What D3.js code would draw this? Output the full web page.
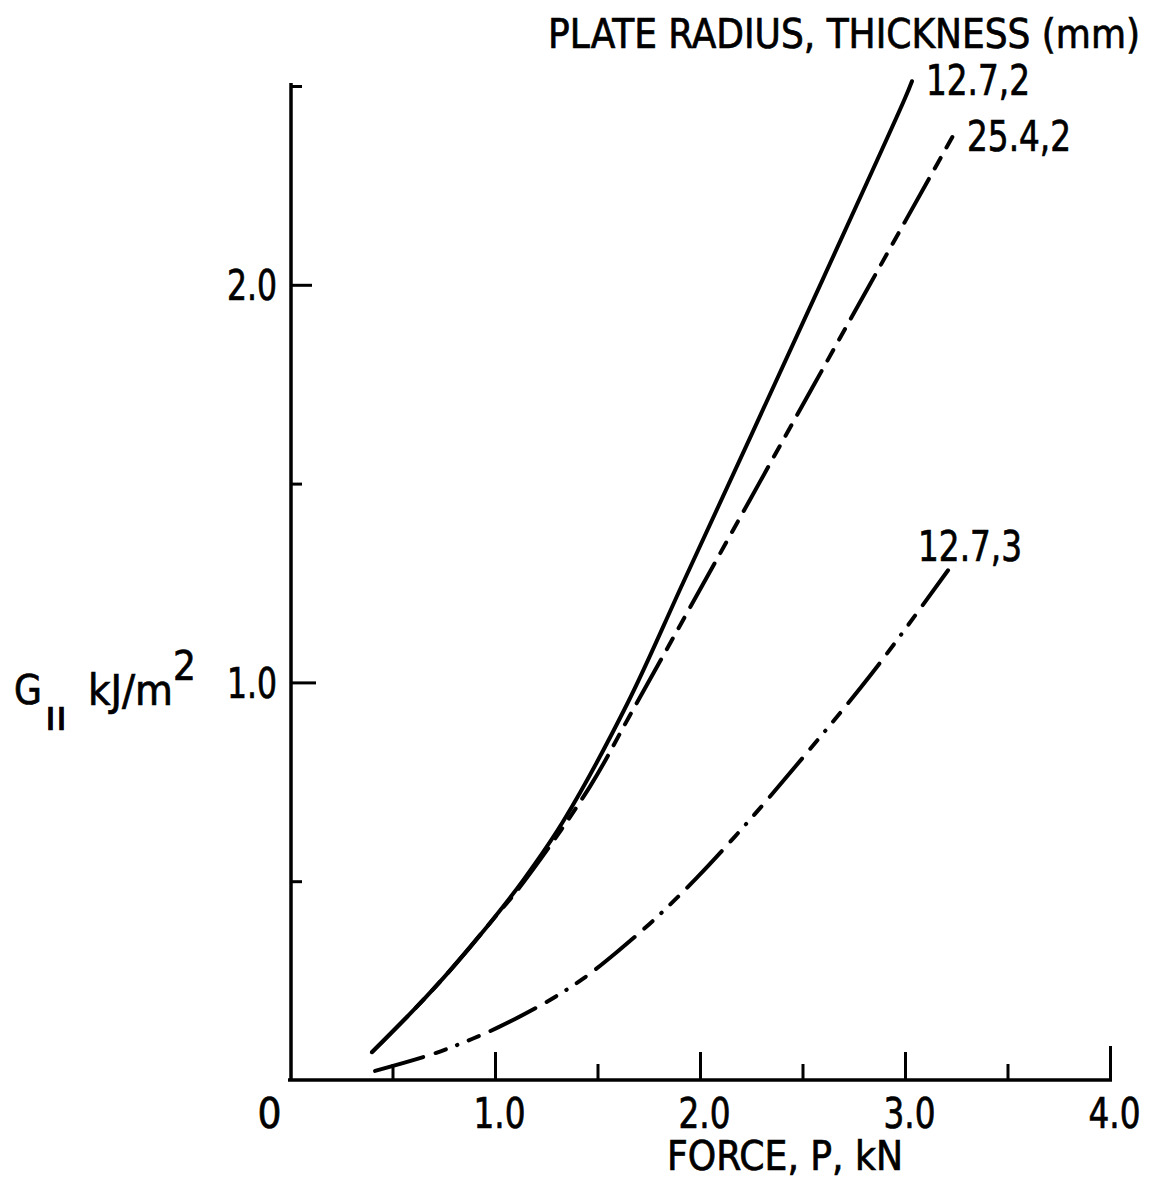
<!DOCTYPE html>
<html>
<head>
<meta charset="utf-8">
<script src="https://cdn.jsdelivr.net/npm/d3@7"></script>
<style>
  html, body { margin: 0; padding: 0; background: #fff; }
  svg { display: block; }
  text { font-family: "Liberation Sans Narrow", "DejaVu Sans Condensed", "Liberation Sans", sans-serif; fill: #000; stroke: #000; stroke-width: 0.7px; }
</style>
</head>
<body>
<svg id="chart" width="1151" height="1181"></svg>
<script>
// ---- data ----
const xTicks = [0, 0.5, 1.0, 1.5, 2.0, 2.5, 3.0, 3.5, 4.0];
const xTickLabels = {0: "0", 1: "1.0", 2: "2.0", 3: "3.0", 4: "4.0"};
const yTicks = [0.5, 1.0, 1.5, 2.0, 2.5];
const yTickLabels = {1: "1.0", 2: "2.0"};

const seriesNames = ["12.7,2", "25.4,2", "12.7,3"];

// G_II (kJ/m^2) vs force P (kN)
const series_12_7_2 = [
  [0.40, 0.070], [0.62, 0.185], [0.78, 0.275], [0.976, 0.395], [1.137, 0.502],
  [1.332, 0.650], [1.644, 0.945], [1.917, 1.250], [2.244, 1.615], [2.600, 2.015],
  [3.000, 2.469], [3.034, 2.512]
];
const series_25_4_2 = [
  [0.40, 0.070], [0.62, 0.185], [0.78, 0.275], [0.976, 0.395], [1.137, 0.496],
  [1.463, 0.738], [1.659, 0.918], [1.951, 1.188], [2.390, 1.595], [2.830, 2.002],
  [3.254, 2.393]
];
const series_12_7_3 = [
  [0.415, 0.023], [0.683, 0.063], [0.844, 0.094], [1.010, 0.131], [1.254, 0.197],
  [1.430, 0.255], [1.595, 0.322], [1.780, 0.405], [1.985, 0.509], [2.244, 0.655],
  [2.502, 0.811], [2.839, 1.023], [3.210, 1.282]
];

const titleText = "PLATE RADIUS, THICKNESS (mm)";
const xAxisTitle = "FORCE, P, kN";

// ---- layout ----
const svg = d3.select("#chart");
svg.append("rect").attr("width", 1151).attr("height", 1181).attr("fill", "#fff");

const x = d3.scaleLinear().domain([0, 4]).range([290, 1110]);
const y = d3.scaleLinear().domain([0, 2.5]).range([1080, 86]);

const FS = 42;

// ---- x axis ----
const xAxis = d3.axisBottom(x)
  .tickValues(xTicks)
  .tickSizeOuter(0)
  .tickFormat(d => xTickLabels[d] || "");
const gx = svg.append("g").attr("transform", `translate(0,${y(0)})`).call(xAxis);
gx.select(".domain").attr("stroke", "#000").attr("stroke-width", 3.5)
  .attr("d", `M${x(0) - 2},0H${x(4) + 2}`);
gx.selectAll(".tick line")
  .attr("stroke", "#000").attr("stroke-width", 3)
  .attr("y2", d => d === 0 ? 0 : (d === 4 ? -34 : (Number.isInteger(d) ? -28 : -16)));
gx.selectAll(".tick text")
  .attr("font-size", FS)
  .attr("font-family", null)
  .attr("y", 0).attr("dy", 48)
  .attr("dx", d => d === 0 ? -21 : 4)
  .attr("textLength", d => d === 0 ? null : 52)
  .attr("lengthAdjust", "spacingAndGlyphs");

// ---- y axis ----
const yAxis = d3.axisLeft(y)
  .tickValues(yTicks)
  .tickSizeOuter(0)
  .tickFormat(d => yTickLabels[d] || "");
const gy = svg.append("g").attr("transform", `translate(${x(0) + 1},0)`).call(yAxis);
gy.select(".domain").attr("stroke", "#000").attr("stroke-width", 3.5)
  .attr("d", `M0,${y(2.5) - 3}V${y(0) + 1}`);
gy.selectAll(".tick line")
  .attr("stroke", "#000").attr("stroke-width", 3)
  .attr("x2", d => (d === 1 ? 25 : d === 2 ? 21 : 11));
gy.selectAll(".tick text")
  .attr("font-size", FS)
  .attr("font-family", null)
  .attr("x", -14).attr("dy", "0.36em")
  .attr("textLength", 50)
  .attr("lengthAdjust", "spacingAndGlyphs");

// ---- curves ----
const line = d3.line()
  .x(d => x(d[0]))
  .y(d => y(d[1]))
  .curve(d3.curveCatmullRom.alpha(0.5));

const curves = [
  {data: series_12_7_2, dash: null},
  {data: series_25_4_2, dash: "50,12,12,12,12,12"},
  {data: series_12_7_3, dash: "50,13,11,12,0.5,12,11,13"}
];

svg.append("g").selectAll("path")
  .data(curves)
  .join("path")
  .attr("d", d => line(d.data))
  .attr("fill", "none")
  .attr("stroke", "#000")
  .attr("stroke-width", 4)
  .attr("stroke-linecap", "round")
  .attr("stroke-linejoin", "round")
  .attr("stroke-dasharray", d => d.dash);

// ---- curve labels ----
const labelOffsets = [[14, 14], [10, 22], [-30, -9]];
const ends = [series_12_7_2, series_25_4_2, series_12_7_3].map(s => s[s.length - 1]);
svg.append("g").selectAll("text")
  .data(seriesNames)
  .join("text")
  .attr("x", (d, i) => x(ends[i][0]) + labelOffsets[i][0])
  .attr("y", (d, i) => y(ends[i][1]) + labelOffsets[i][1])
  .attr("font-size", FS)
  .attr("textLength", 104)
  .attr("lengthAdjust", "spacingAndGlyphs")
  .text(d => d);

// ---- titles ----
svg.append("text")
  .attr("x", 548).attr("y", 48)
  .attr("font-size", 41)
  .attr("textLength", 592)
  .attr("lengthAdjust", "spacingAndGlyphs")
  .text(titleText);

svg.append("text")
  .attr("x", 667).attr("y", 1170)
  .attr("font-size", 40)
  .attr("textLength", 236)
  .attr("lengthAdjust", "spacingAndGlyphs")
  .text(xAxisTitle);

// y axis label: G_II kJ/m^2
const yl = svg.append("g");
yl.append("text").attr("x", 14).attr("y", 704).attr("font-size", 40).text("G");
yl.append("text").attr("x", 45).attr("y", 730).attr("font-size", 32)
  .attr("textLength", 22).attr("lengthAdjust", "spacingAndGlyphs").text("II");
yl.append("text").attr("x", 88).attr("y", 705).attr("font-size", FS)
  .attr("textLength", 85).attr("lengthAdjust", "spacingAndGlyphs").text("kJ/m");
yl.append("text").attr("x", 173).attr("y", 680).attr("font-size", 40).text("2");
</script>
</body>
</html>
